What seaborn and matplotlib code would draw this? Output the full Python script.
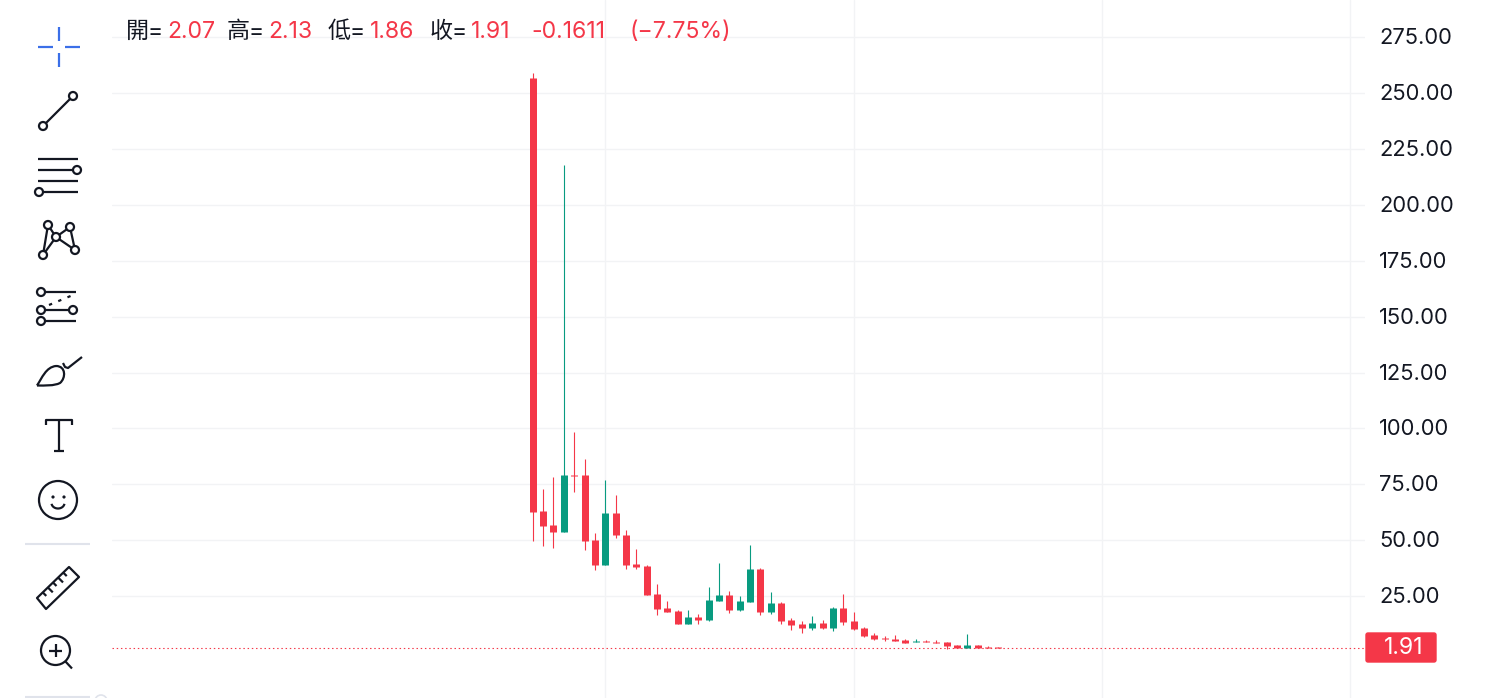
import numpy as np
import pandas as pd
import matplotlib
matplotlib.use("Agg")
import matplotlib.pyplot as plt
from matplotlib.patches import Circle, Polygon, PathPatch, FancyBboxPatch
from matplotlib.path import Path
from matplotlib.transforms import ScaledTranslation
import seaborn as sns

opens = [257, 63.1, 56.8, 53.7, 79.2, 79.2, 50.1, 38.7, 62.2, 52.4, 39.4, 38.5, 26, 19.8, 18.5, 12.6, 15.8, 14.4, 22.9, 25.6,
         18.9, 22.5, 37.2, 18, 22, 14.4, 12.6, 10.8, 13, 10.8, 19.8, 13.9, 10.8, 7.6, 6.3, 5.8, 5.4, 4.5, 4.9, 4.5,
         4.5, 3.1, 1.9, 3.1, 2.2, 2.07]
highs = [259, 72.9, 78.3, 217.9, 98.4, 86.3, 53.3, 76.9, 70.2, 54.6, 46.1, 39, 30.5, 22.9, 18.9, 18.9, 17.1, 29.2, 39.9, 27.4,
         25.1, 47.9, 37.6, 26.9, 22.5, 15.3, 13.9, 16.2, 14.4, 20.2, 26, 18, 11.2, 8.5, 7.2, 7.6, 5.8, 5.8, 5.4, 5.4,
         4.5, 3.1, 8.1, 3.1, 2.7, 2.13]
lows = [49.8, 47.2, 46.7, 53.7, 71.7, 45.4, 36.5, 38.7, 51.2, 37.3, 36.9, 25.7, 16.7, 18, 12.6, 12.6, 12.6, 14, 22.9, 17.6,
        18.5, 22.5, 16.7, 17.1, 12.6, 9.9, 8.5, 9.9, 10.3, 9.4, 12.1, 9.9, 6.7, 5.4, 4.9, 4.9, 4, 4.5, 4.5, 4,
        1.3, 1.9, 1.9, 1.9, 1.6, 1.86]
closes = [62.8, 56.4, 53.7, 79.2, 78.9, 49.8, 38.7, 62.2, 52.4, 39.1, 38.1, 25.7, 19.3, 18, 12.6, 15.8, 14.4, 23.4, 25.6, 18.9,
          22.9, 37.2, 18, 22, 13.9, 12.1, 10.8, 13, 10.8, 19.8, 13.5, 10.3, 7.2, 5.8, 5.8, 4.9, 4, 4.9, 4.5, 4,
          2.7, 1.9, 3.1, 1.9, 1.9, 1.91]
price_ticks = [25, 50, 75, 100, 125, 150, 175, 200, 225, 250, 275]
time_grid = [7, 31, 55, 79]
last_price = 1.91

RED = "#F43748"
GREEN = "#089B80"
INK = "#131722"
GRID = "#F2F3F5"
BLUE = "#3B6FE8"

sns.set_theme(style="white")
plt.rcParams["font.family"] = ["Inter", "Noto Sans CJK TC", "DejaVu Sans"]

fig = plt.figure(figsize=(15, 6.98), dpi=100, facecolor="white")
ax = fig.add_axes([112 / 1500, 0, (1365 - 112) / 1500, 1])

n = len(opens)
base = pd.DataFrame({"i": np.arange(n), "o": opens, "h": highs, "l": lows, "c": closes})
base["dir"] = np.where(base["c"] >= base["o"], "up", "down")
palette = {"up": GREEN, "down": RED}

wicks = base.melt(id_vars=["i", "dir"], value_vars=["h", "l"], value_name="price")
bodies = base.melt(id_vars=["i", "dir"], value_vars=["o", "c"], value_name="price")

sns.lineplot(data=wicks, x="i", y="price", hue="dir", units="i", estimator=None, palette=palette,
             linewidth=0.8, legend=False, ax=ax, solid_capstyle="butt", zorder=3)
sns.lineplot(data=bodies, x="i", y="price", hue="dir", units="i", estimator=None, palette=palette,
             linewidth=5.04, legend=False, ax=ax, solid_capstyle="butt", zorder=4)

ax.set_xlim(-40.67, 80.43)
ax.set_ylim(-20.6, 291.7)
ax.set_xlabel("")
ax.set_ylabel("")
for s in ax.spines.values():
    s.set_visible(False)
ax.set_xticks(time_grid)
ax.set_xticklabels([])
ax.set_yticks(price_ticks)
ax.set_yticklabels([f"{t:.2f}" for t in price_ticks], fontsize=15.8, color=INK)
ax.yaxis.tick_right()
ax.tick_params(axis="both", length=0, pad=10)
ax.grid(True, color=GRID, linewidth=1.0, zorder=0)
ax.set_axisbelow(True)
ax.axhline(last_price, color=RED, linewidth=0.8, linestyle=(0, (1.3, 2.5)), zorder=2)
lift = ScaledTranslation(0, 1 / 100, fig.dpi_scale_trans)
for lab in ax.get_yticklabels(which="major"):
    lab.set_transform(lab.get_transform() + lift)

# overlay in pixel space for toolbar, header and price tag
ov = fig.add_axes([0, 0, 1, 1], facecolor="none")
ov.set_xlim(0, 1500)
ov.set_ylim(698, 0)
ov.axis("off")

LW = 1.6

def line(xs, ys, color=INK, lw=LW, **kw):
    ov.plot(xs, ys, color=color, lw=lw, solid_capstyle=kw.pop("cap", "butt"), **kw)

def ring(x, y, r=4.0, lw=LW):
    ov.add_patch(Circle((x, y), r, fc="white", ec=INK, lw=lw, zorder=5))

# crosshair
line([59, 59], [27, 41], BLUE, 1.6)
line([59, 59], [53, 67], BLUE, 1.6)
line([38, 53], [47, 47], BLUE, 1.6)
line([65, 80], [47, 47], BLUE, 1.6)
# trend line
line([43, 73], [126, 96])
ring(43, 126); ring(73, 96)
# channel
line([38, 78], [159, 159])
line([38, 77], [170, 170])
line([38, 78], [181, 181])
line([39, 78], [192, 192])
ring(77, 170); ring(39, 192)
# XABCD
pts = {"x": (43, 255), "a": (48, 225), "b": (56, 237), "c": (70, 227), "d": (75, 250)}
for p, q in [("x", "a"), ("a", "b"), ("x", "b"), ("b", "c"), ("c", "d"), ("b", "d")]:
    line([pts[p][0], pts[q][0]], [pts[p][1], pts[q][1]])
for p in pts.values():
    ring(*p)
# fib
line([41, 76], [292, 292])
line([41, 73], [310, 310])
line([41, 76], [321, 321])
line([49, 73], [305, 295], linestyle=(0, (1.5, 3)))
ring(41, 292); ring(41, 310); ring(73, 310); ring(41, 321)
# brush
brush = Path([(37, 385.5), (42, 378), (46, 367), (56, 366), (66, 366), (66, 378), (60, 383), (54, 386), (45, 385.5), (37, 385.5)],
             [Path.MOVETO, Path.CURVE4, Path.CURVE4, Path.CURVE4, Path.CURVE4, Path.CURVE4, Path.CURVE4, Path.CURVE4, Path.CURVE4, Path.CURVE4])
ov.add_patch(PathPatch(brush, fc="none", ec=INK, lw=LW))
line([63, 65, 68, 82], [363, 367, 368, 357])
# text tool
line([46, 46, 72, 72], [425, 420, 420, 425])
line([59, 59], [420, 450.5])
line([54, 64], [450.5, 450.5])
# emoji
ov.add_patch(Circle((58, 500), 19, fc="none", ec=INK, lw=LW))
ov.add_patch(Circle((53, 497), 1.6, fc=INK, ec="none"))
ov.add_patch(Circle((64, 497), 1.6, fc=INK, ec="none"))
theta = np.linspace(0.15, np.pi - 0.15, 30)
line(58 + 6.5 * np.cos(theta), 503 + 5.5 * np.sin(theta))
# separators
line([25, 90], [544, 544], "#E0E3EB", 1.5)
line([25, 90], [697, 697], "#E0E3EB", 1.5)
ov.add_patch(Circle((101, 701), 6, fc="none", ec="#E0E3EB", lw=1.2))
# ruler
ov.add_patch(Polygon([(37, 598), (69, 567), (79, 577), (46, 609)], closed=True, fc="none", ec=INK, lw=LW, joinstyle="round"))
for t, ln in zip(np.linspace(0.18, 0.82, 5), [5, 7, 5, 7, 5]):
    x0, y0 = 37 + 32 * t, 598 - 31 * t
    line([x0, x0 + ln * 0.7], [y0, y0 + ln * 0.7])
# zoom
ov.add_patch(Circle((55.5, 650.5), 14.5, fc="none", ec=INK, lw=LW))
line([49, 62], [650.5, 650.5])
line([55.5, 55.5], [644, 657])
line([65, 72], [661, 668.5])

# header
hy = 32
for x, s, c in [(126, "開=", INK), (167, "2.07", RED), (227, "高=", INK), (268, "2.13", RED),
                (328, "低=", INK), (370, "1.86", RED), (430, "收=", INK), (471, "1.91", RED),
                (531, "-0.1611", RED), (629, "(−7.75%)", RED)]:
    ov.text(x, hy, s, color=c, fontsize=16.6, va="center", ha="left")

# price tag
ov.add_patch(FancyBboxPatch((1366, 633), 70, 29, boxstyle="round,pad=0,rounding_size=2", fc=RED, ec=RED, lw=1, clip_on=False))
ov.text(1404, 648, f"{last_price:.2f}", color="white", fontsize=16.6, va="center", ha="center")

fig.savefig("out.png", dpi=100, facecolor="white")
